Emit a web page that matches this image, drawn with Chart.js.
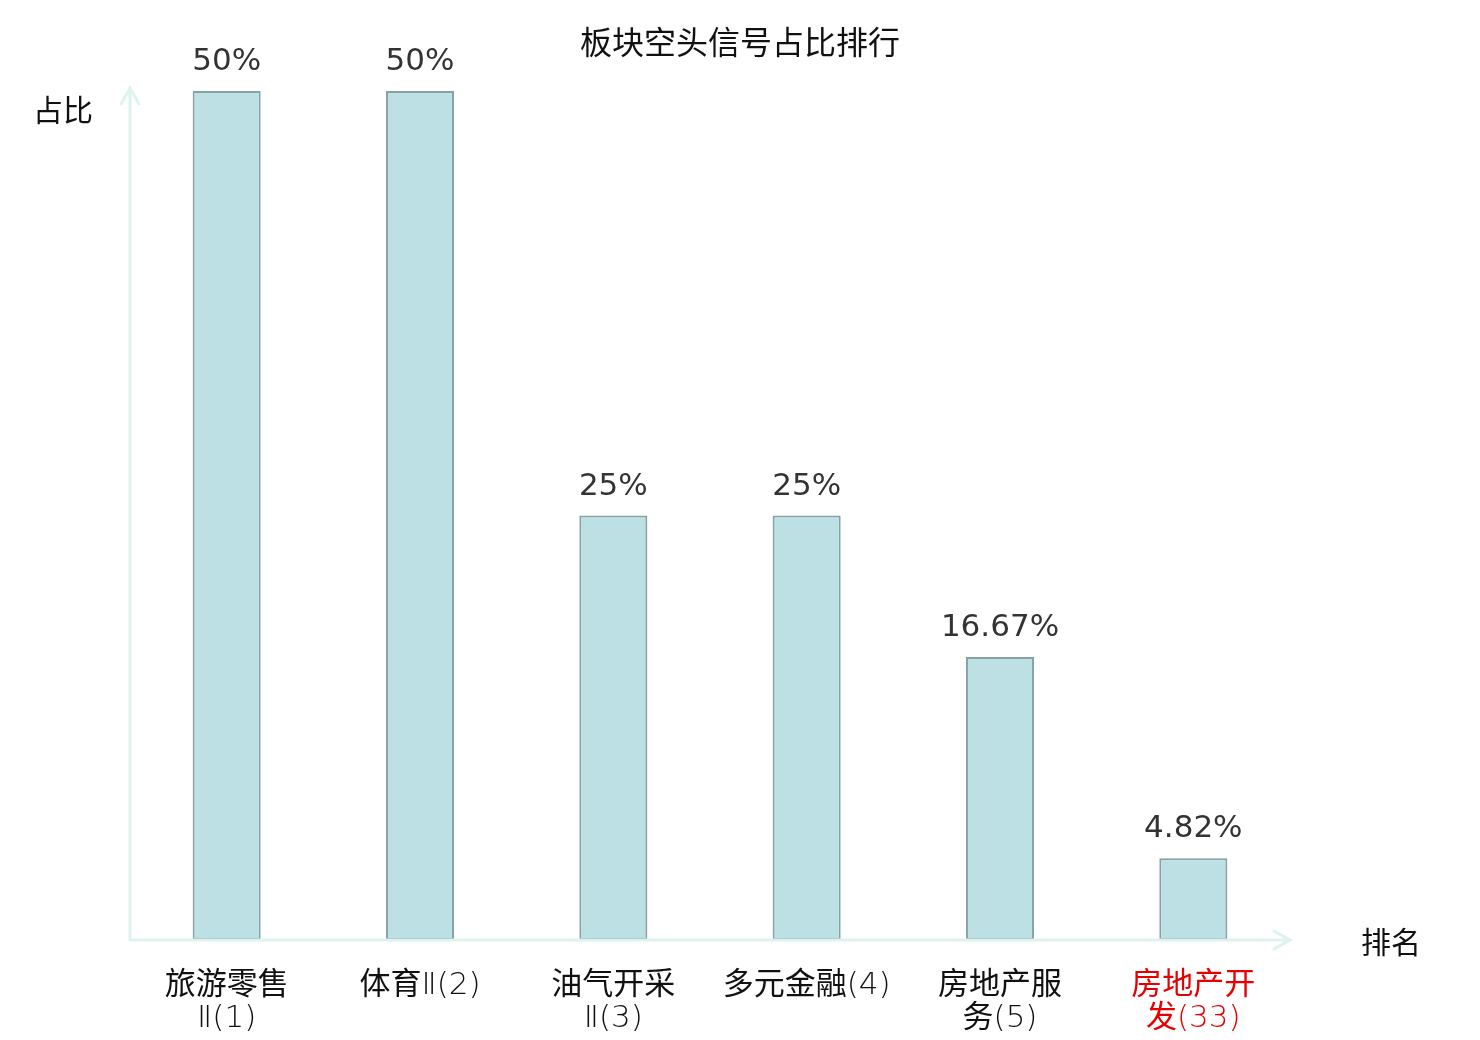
<!DOCTYPE html>
<html>
<head>
<meta charset="utf-8">
<script src="https://cdn.jsdelivr.net/npm/chart.js@4.4.0/dist/chart.umd.min.js"></script>
<style>
html,body{margin:0;padding:0;background:#fff;}
#wrap{width:1480px;height:1040px;position:relative;}
</style>
</head>
<body>
<div id="wrap"><canvas id="c" width="1480" height="1040"></canvas></div>
<script>
const titleText = "板块空头信号占比排行";
const yAxisTitle = "占比";
const xAxisTitle = "排名";
const categories = [
  ["旅游零售", "Ⅱ(1)"],
  ["体育Ⅱ(2)"],
  ["油气开采", "Ⅱ(3)"],
  ["多元金融(4)"],
  ["房地产服", "务(5)"],
  ["房地产开", "发(33)"]
];
const values = [50, 50, 25, 25, 16.67, 4.82];
const valueLabels = ["50%", "50%", "25%", "25%", "16.67%", "4.82%"];
const highlightIndex = 5;

const CJK = '"DejaVu Sans", "Noto Sans CJK SC", sans-serif';
const TICKFONT = '"DejaVu Sans Light", "Noto Sans CJK SC", sans-serif';
const axisColor = '#def2ef';

const decor = {
  id: 'decor',
  afterDatasetsDraw(chart) {
    const ctx = chart.ctx;
    const a = chart.chartArea;
    const x0 = a.left, y0 = a.bottom;
    ctx.save();
    ctx.strokeStyle = axisColor;
    ctx.lineWidth = 3;
    ctx.lineCap = 'round';
    ctx.beginPath();
    ctx.moveTo(x0, y0); ctx.lineTo(x0, a.top - 3);
    ctx.moveTo(x0 - 9, a.top + 13); ctx.lineTo(x0, a.top - 3); ctx.lineTo(x0 + 9, a.top + 13);
    ctx.moveTo(x0, y0); ctx.lineTo(a.right, y0);
    ctx.moveTo(a.right - 16, y0 - 9); ctx.lineTo(a.right, y0); ctx.lineTo(a.right - 16, y0 + 9);
    ctx.stroke();
    const meta = chart.getDatasetMeta(0);
    ctx.fillStyle = '#333';
    ctx.font = '31px ' + CJK;
    ctx.textAlign = 'center';
    ctx.textBaseline = 'middle';
    meta.data.forEach((bar, i) => {
      ctx.fillText(valueLabels[i], bar.x, bar.y - 29);
    });
    ctx.fillStyle = '#111';
    ctx.font = '32px "Noto Sans CJK SC", sans-serif';
    ctx.fillText(titleText, 740, 42);
    ctx.font = '30px "Noto Sans CJK SC", sans-serif';
    ctx.fillText(yAxisTitle, 63, 110);
    ctx.fillText(xAxisTitle, 1391, 942);
    ctx.restore();
  }
};

new Chart(document.getElementById('c'), {
  type: 'bar',
  data: {
    labels: categories,
    datasets: [{
      data: values,
      backgroundColor: '#bce0e3',
      borderColor: '#86a2a4',
      borderWidth: 2,
      borderSkipped: false,
      barPercentage: 0.352,
      categoryPercentage: 1
    }]
  },
  options: {
    responsive: false,
    animation: false,
    devicePixelRatio: 1,
    layout: { padding: { left: 130, right: 190, top: 91, bottom: 0 } },
    plugins: { legend: { display: false }, tooltip: { enabled: false }, title: { display: false } },
    scales: {
      x: {
        grid: { display: false, drawTicks: false },
        border: { display: false },
        afterFit(scale) { scale.height = 100; },
        ticks: {
          padding: 30,
          maxRotation: 0,
          autoSkip: false,
          font: { size: 31, family: TICKFONT, lineHeight: 1.05 },
          color: (c) => c.index === highlightIndex ? '#e60000' : '#111'
        }
      },
      y: {
        display: false,
        min: 0,
        max: 50
      }
    }
  },
  plugins: [decor]
});
</script>
</body>
</html>
